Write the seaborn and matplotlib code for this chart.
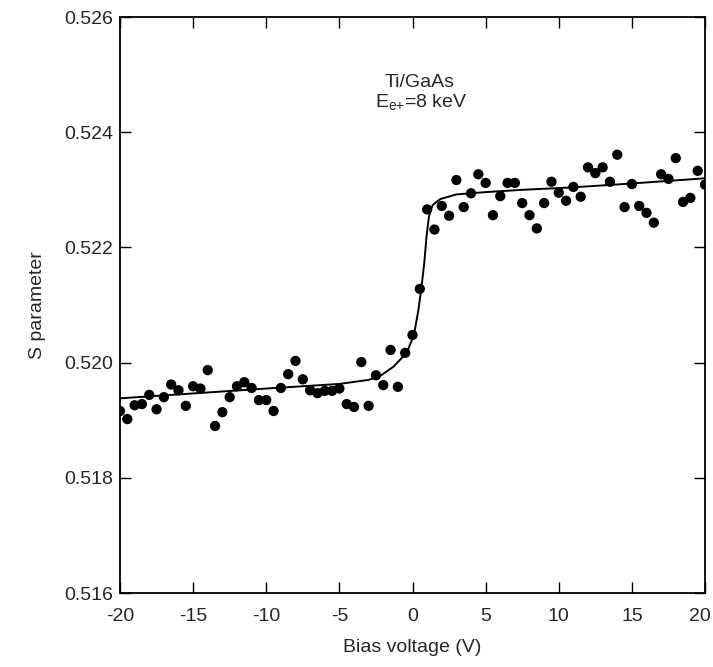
import numpy as np
import pandas as pd
import seaborn as sns
import matplotlib.pyplot as plt
import matplotlib.transforms as mtransforms

# measured S parameter vs bias voltage (Ti/GaAs, 8 keV positrons)
bias = np.arange(-20, 20.5, 0.5)
s_param = [0.51916, 0.51902, 0.51926, 0.51928, 0.51944, 0.51919, 0.51940, 0.51962,
           0.51952, 0.51925, 0.51959, 0.51955, 0.51987, 0.51890, 0.51914, 0.51940,
           0.51959, 0.51966, 0.51956, 0.51935, 0.51935, 0.51916, 0.51956, 0.51980,
           0.52003, 0.51971, 0.51952, 0.51947, 0.51951, 0.51951, 0.51955, 0.51928,
           0.51923, 0.52001, 0.51925, 0.51978, 0.51961, 0.52022, 0.51958, 0.52017,
           0.52048, 0.52128, 0.52266, 0.52231, 0.52272, 0.52255, 0.52317, 0.52270,
           0.52294, 0.52327, 0.52312, 0.52256, 0.52289, 0.52312, 0.52312, 0.52277,
           0.52256, 0.52233, 0.52277, 0.52314, 0.52295, 0.52281, 0.52305, 0.52288,
           0.52339, 0.52329, 0.52339, 0.52314, 0.52361, 0.52270, 0.52310, 0.52272,
           0.52260, 0.52243, 0.52327, 0.52319, 0.52355, 0.52279, 0.52286, 0.52333,
           0.52309]

# fitted curve
fit_bias = [-20, -10, -5, -3, -2.2, -1.3, -0.4, 0.1, 0.4, 0.6, 0.8, 0.96, 1.12,
            1.25, 1.4, 1.9, 3.0, 5.0, 7.5, 10.8, 15, 20]
fit_s = [0.51938, 0.51955, 0.51963, 0.51970, 0.51977, 0.51993, 0.52017, 0.52048,
         0.52091, 0.52128, 0.52172, 0.52219, 0.52253, 0.52266, 0.52274, 0.52284,
         0.52292, 0.52296, 0.52300, 0.52304, 0.52311, 0.52320]

df = pd.DataFrame({'bias': bias, 's': s_param})
fit = pd.DataFrame({'bias': fit_bias, 's': fit_s})

sns.set_style('ticks')
plt.rcParams['font.family'] = ['Liberation Sans', 'DejaVu Sans']
plt.rcParams['mathtext.fontset'] = 'custom'
plt.rcParams['mathtext.rm'] = 'Liberation Sans'
plt.rcParams['axes.unicode_minus'] = False

fig = plt.figure(figsize=(7.13, 6.67), dpi=100)
ax = fig.add_axes([0.1683, 0.1109, 0.8205, 0.8636])

sns.lineplot(data=fit, x='bias', y='s', color='black', linewidth=1.4, ax=ax,
             sort=False)
sns.scatterplot(data=df, x='bias', y='s', color='black', s=55, edgecolor='none',
                ax=ax, zorder=3)

ax.set_xlim(-20, 20)
ax.set_ylim(0.516, 0.526)
ax.set_xticks(np.arange(-20, 21, 5))
ax.set_yticks(np.arange(0.516, 0.5261, 0.002))
ax.set_yticklabels(['0.516', '0.518', '0.520', '0.522', '0.524', '0.526'])
ax.tick_params(direction='in', length=8, width=1, labelsize=14,
               top=True, right=True, color='black')
ax.tick_params(axis='x', pad=11)
ax.tick_params(axis='y', pad=5)
for sp in ax.spines.values():
    sp.set_linewidth(1.3)
    sp.set_color('black')

# nudge the last x label so it stays inside the figure
last = ax.get_xticklabels()[-1]
last.set_transform(last.get_transform() +
                   mtransforms.ScaledTranslation(-5 / 100, 0, fig.dpi_scale_trans))

ax.set_xlabel('Bias voltage (V)', fontsize=14, labelpad=10)
ax.set_ylabel('S parameter', fontsize=14, labelpad=13)

ax.text(0.5, 0.52487, 'Ti/GaAs', ha='center', va='center', fontsize=14)
ax.text(0.6, 0.52453, r'$\mathregular{E_{e{+}}}$=8 keV', ha='center', va='center',
        fontsize=14)

fig.savefig('out.png', dpi=100)
